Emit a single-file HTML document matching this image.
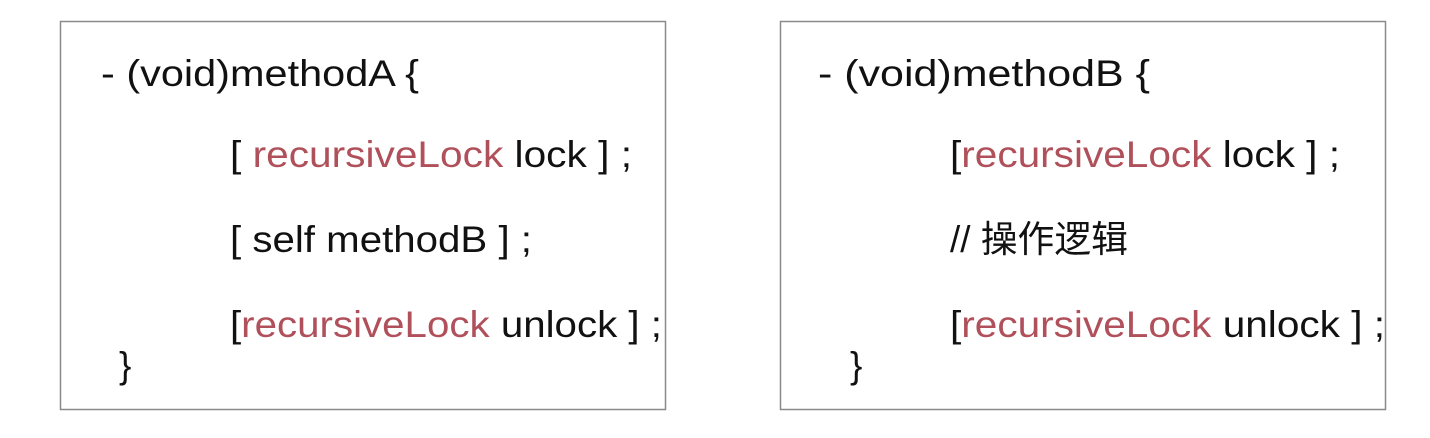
<!DOCTYPE html>
<html><head><meta charset="utf-8"><style>
html,body{margin:0;padding:0;background:#fff;}
svg{display:block}
text{font-family:"Liberation Sans","Noto Sans CJK SC",sans-serif;font-size:37px;fill:#111;}
.r{fill:#b0505a;}
</style></head><body>
<svg width="1430" height="438" xmlns="http://www.w3.org/2000/svg">
<rect x="60.5" y="21.5" width="605" height="388" fill="none" stroke="#8a8a8a" stroke-width="1.5"/>
<rect x="780.5" y="21.5" width="605" height="388" fill="none" stroke="#8a8a8a" stroke-width="1.5"/>
<text x="101" y="86" textLength="318" lengthAdjust="spacingAndGlyphs">- (void)methodA  {</text>
<text x="230" y="167" textLength="402" lengthAdjust="spacingAndGlyphs">[ <tspan class="r">recursiveLock</tspan> lock ] ;</text>
<text x="230" y="252" textLength="302" lengthAdjust="spacingAndGlyphs">[ self methodB ] ;</text>
<text x="230" y="337" textLength="432" lengthAdjust="spacingAndGlyphs">[<tspan class="r">recursiveLock</tspan> unlock ] ;</text>
<text x="119" y="378">}</text>
<text x="818" y="86" textLength="332" lengthAdjust="spacingAndGlyphs">- (void)methodB  {</text>
<text x="950" y="167" textLength="390" lengthAdjust="spacingAndGlyphs">[<tspan class="r">recursiveLock</tspan> lock ] ;</text>
<text x="950" y="252" textLength="178" lengthAdjust="spacingAndGlyphs">// 操作逻辑</text>
<text x="950" y="337" textLength="435" lengthAdjust="spacingAndGlyphs">[<tspan class="r">recursiveLock</tspan> unlock ] ;</text>
<text x="850" y="378">}</text>
</svg>
</body></html>
